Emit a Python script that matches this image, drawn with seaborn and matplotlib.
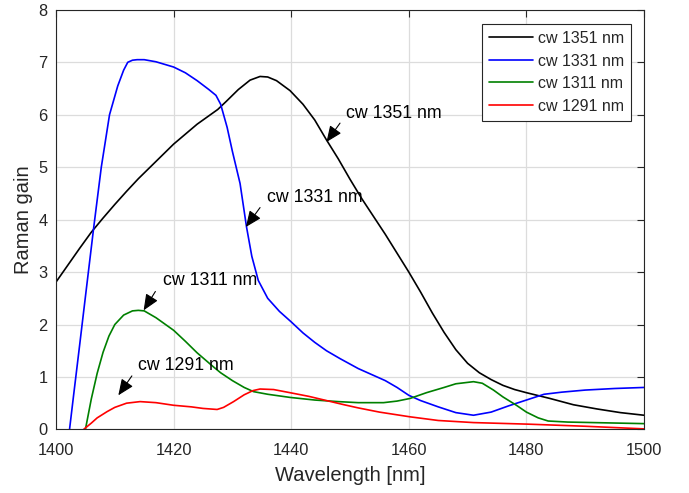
import matplotlib
matplotlib.use("Agg")
import matplotlib.pyplot as plt
import seaborn as sns
import pandas as pd

# ---- data ----
x_1351 = [1400, 1402, 1404, 1406, 1408, 1410, 1412, 1414, 1416, 1418, 1420, 1422, 1424, 1426,
          1427.5, 1429, 1431, 1433, 1434.7, 1436, 1437.5, 1439.8, 1442, 1444, 1446, 1448, 1450,
          1452, 1454, 1456, 1458, 1460, 1462, 1464, 1466, 1468, 1470, 1472, 1474, 1476, 1478,
          1480, 1484, 1488, 1492, 1496, 1500]
y_1351 = [2.81, 3.13, 3.45, 3.76, 4.03, 4.29, 4.54, 4.78, 5.00, 5.22, 5.44, 5.63, 5.82, 5.98,
          6.10, 6.26, 6.48, 6.66, 6.73, 6.72, 6.65, 6.46, 6.20, 5.90, 5.52, 5.16, 4.77,
          4.40, 4.06, 3.72, 3.36, 3.00, 2.62, 2.22, 1.85, 1.52, 1.26, 1.08, 0.95, 0.84, 0.76,
          0.70, 0.59, 0.47, 0.39, 0.32, 0.27]

x_1331 = [1402.3, 1403, 1404, 1405, 1406.4, 1407.7, 1409.1, 1410.5, 1411.5, 1412.2, 1413, 1413.8,
          1415, 1417, 1420, 1422, 1424, 1426, 1427.2, 1428, 1429.1, 1430, 1431.3, 1432.4, 1433.3,
          1434.4, 1436, 1438, 1440, 1442, 1444, 1446, 1448.3, 1451.4, 1454, 1456, 1458, 1460,
          1462, 1465, 1468, 1471, 1474, 1477, 1480, 1483, 1486, 1490, 1495, 1500]
y_1331 = [0.0, 0.66, 1.59, 2.53, 3.84, 5.00, 6.00, 6.55, 6.85, 7.00, 7.04, 7.05,
          7.05, 7.01, 6.91, 6.80, 6.65, 6.48, 6.37, 6.20, 5.76, 5.30, 4.69, 3.86, 3.30,
          2.84, 2.50, 2.25, 2.05, 1.84, 1.66, 1.50, 1.35, 1.16, 1.03, 0.93, 0.80, 0.65,
          0.55, 0.43, 0.32, 0.27, 0.33, 0.45, 0.56, 0.67, 0.71, 0.75, 0.78, 0.80]

x_1311 = [1405, 1406, 1407, 1408, 1409, 1410, 1411.5, 1413, 1414, 1415, 1417, 1420, 1422, 1424,
          1426.8, 1428, 1430, 1432, 1433.6, 1436, 1439.8, 1444, 1448, 1451.4, 1455.7, 1458,
          1460.2, 1463, 1466, 1468, 1471, 1472.5, 1474.4, 1476, 1478.3, 1480, 1482, 1483.7,
          1487, 1500]
y_1311 = [0.0, 0.58, 1.07, 1.47, 1.78, 2.00, 2.18, 2.26, 2.27, 2.26, 2.13, 1.89, 1.68, 1.46,
          1.19, 1.08, 0.93, 0.80, 0.72, 0.67, 0.61, 0.56, 0.53, 0.51, 0.51, 0.54,
          0.59, 0.70, 0.80, 0.87, 0.91, 0.88, 0.75, 0.62, 0.46, 0.33, 0.22, 0.16,
          0.14, 0.11]

x_1291 = [1404.7, 1406, 1407, 1408.7, 1410, 1412, 1414.3, 1417, 1420, 1423, 1425, 1427.4, 1428.5,
          1430.2, 1432, 1433.5, 1434.7, 1437, 1439.8, 1443, 1446, 1449, 1451.4, 1455, 1460.2,
          1465, 1471, 1480.3, 1490, 1500]
y_1291 = [0.0, 0.12, 0.22, 0.34, 0.42, 0.50, 0.53, 0.51, 0.46, 0.43, 0.40, 0.38, 0.42,
          0.53, 0.66, 0.74, 0.77, 0.76, 0.70, 0.63, 0.55, 0.47, 0.41, 0.33, 0.24,
          0.17, 0.13, 0.10, 0.06, 0.01]

labels = ["cw 1351 nm", "cw 1331 nm", "cw 1311 nm", "cw 1291 nm"]
colors = ["#000000", "#0000ff", "#008000", "#ff0000"]
series_x = [x_1351, x_1331, x_1311, x_1291]
series_y = [y_1351, y_1331, y_1311, y_1291]

# annotation positions (text position, arrow tail, arrow tip) in data units
ann_text = [(1449.4, 6.03), (1435.9, 4.42), (1418.2, 2.83), (1413.9, 1.21)]
ann_tail = [(1448.3, 5.84), (1434.7, 4.23), (1416.9, 2.63), (1412.9, 1.02)]
ann_tip = [(1446.0, 5.48), (1432.3, 3.86), (1414.9, 2.27), (1410.6, 0.65)]

x_ticks = [1400, 1420, 1440, 1460, 1480, 1500]
y_ticks = [0, 1, 2, 3, 4, 5, 6, 7, 8]

# ---- plot ----
sns.set_style("white")
plt.rcParams["font.family"] = ["Liberation Sans", "DejaVu Sans"]

fig = plt.figure(figsize=(6.89, 4.93), dpi=100)
ax = fig.add_axes([0.0813, 0.129, 0.8534, 0.851])

frames = []
for lab, xs, ys in zip(labels, series_x, series_y):
    frames.append(pd.DataFrame({"Wavelength": xs, "Gain": ys, "Series": lab}))
df = pd.concat(frames, ignore_index=True)

sns.lineplot(data=df, x="Wavelength", y="Gain", hue="Series", hue_order=labels,
             palette=colors, sort=False, estimator=None, linewidth=1.2, ax=ax)

ax.set_xlim(1400, 1500)
ax.set_ylim(0, 8)
ax.set_xticks(x_ticks)
ax.set_yticks(y_ticks)
ax.grid(True, color="#dcdcdc", linewidth=0.9)
ax.set_axisbelow(True)
for s in ax.spines.values():
    s.set_color("#262626")
    s.set_linewidth(0.8)
ax.tick_params(direction="in", top=True, right=True, length=5, width=0.8,
               colors="#262626", labelsize=11.8)
ax.tick_params(axis="x", pad=9.5)
ax.tick_params(axis="y", pad=6)
ax.set_xlabel("Wavelength [nm]", fontsize=14.5, color="#262626", labelpad=6)
ax.set_ylabel("Raman gain", fontsize=14.5, color="#262626", labelpad=4)

for lab, tp, tl, tip in zip(labels, ann_text, ann_tail, ann_tip):
    ax.annotate("", xy=tip, xytext=tl,
                arrowprops=dict(arrowstyle="-|>,head_length=0.7,head_width=0.3",
                                mutation_scale=14, color="black", lw=0.8,
                                shrinkA=0, shrinkB=0))
    ax.text(tp[0], tp[1], lab, fontsize=12.8, va="center", ha="left", color="black")

leg = ax.legend(loc="upper right", bbox_to_anchor=(0.978, 0.9666), borderaxespad=0,
                fontsize=11.5, frameon=True, fancybox=False, edgecolor="#262626",
                framealpha=1, handlelength=2.75, borderpad=0.45, labelspacing=0.47,
                handletextpad=0.3)
leg.get_frame().set_linewidth(0.8)

fig.savefig("out.png", dpi=100)
